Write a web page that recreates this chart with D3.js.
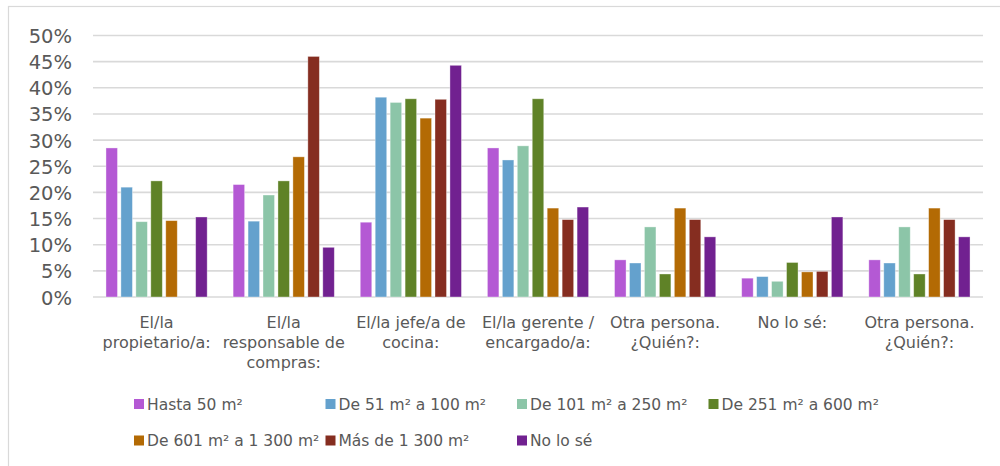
<!DOCTYPE html>
<html>
<head>
<meta charset="utf-8">
<script src="https://cdn.jsdelivr.net/npm/d3@7"></script>
<style>
  html, body { margin: 0; padding: 0; background: #fff; }
  svg { display: block; }
  text { font-family: "DejaVu Sans", sans-serif; fill: #595959; }
</style>
</head>
<body>
<svg id="chart" width="1000" height="466"></svg>
<script>
// Categories (line breaks as shown in the chart)
const categories = [
  "El/la\npropietario/a:",
  "El/la\nresponsable de\ncompras:",
  "El/la jefe/a de\ncocina:",
  "El/la gerente /\nencargado/a:",
  "Otra persona.\n¿Quién?:",
  "No lo sé:",
  "Otra persona.\n¿Quién?:"
];

const seriesNames = [
  "Hasta 50 m²",
  "De 51 m² a 100 m²",
  "De 101 m² a 250 m²",
  "De 251 m² a 600 m²",
  "De 601 m² a 1 300 m²",
  "Más de 1 300 m²",
  "No lo sé"
];

const seriesColors = ["#b459d4", "#64a1cd", "#8cc5a8", "#5f8227", "#b36a04", "#852d20", "#712190"];

// values per series (one per category), in %
const hasta50     = [28.5, 21.5, 14.3, 28.5, 7.1, 3.6, 7.1];
const de51a100    = [21.0, 14.5, 38.2, 26.2, 6.5, 3.9, 6.5];
const de101a250   = [14.4, 19.5, 37.2, 28.9, 13.4, 3.0, 13.4];
const de251a600   = [22.2, 22.2, 37.9, 37.9, 4.4, 6.6, 4.4];
const de601a1300  = [14.6, 26.8, 34.2, 17.0, 17.0, 4.8, 17.0];
const masDe1300   = [0, 46.0, 37.8, 14.8, 14.8, 4.9, 14.8];
const noLoSe      = [15.3, 9.5, 44.3, 17.2, 11.5, 15.3, 11.5];

const seriesValues = [hasta50, de51a100, de101a250, de251a600, de601a1300, masDe1300, noLoSe];

const yTicks = [0, 5, 10, 15, 20, 25, 30, 35, 40, 45, 50];

const svg = d3.select("#chart");

// chart border
svg.append("rect")
  .attr("x", 8.5).attr("y", 6.5)
  .attr("width", 1100).attr("height", 600)
  .attr("fill", "none").attr("stroke", "#d9d9d9").attr("stroke-width", 1.2);

const plotLeft = 93, plotRight = 983, plotTop = 35.5, plotBottom = 297;

const y = d3.scaleLinear().domain([0, 50]).range([plotBottom, plotTop]);
const x0 = d3.scaleBand()
  .domain(d3.range(categories.length))
  .range([plotLeft, plotRight])
  .paddingInner(0.177).paddingOuter(0.0885);
const x1 = d3.scaleBand()
  .domain(d3.range(seriesNames.length))
  .range([0, x0.bandwidth()])
  .paddingInner(0.23).paddingOuter(0.115);

// gridlines
svg.append("g").selectAll("line")
  .data(yTicks).join("line")
  .attr("x1", plotLeft).attr("x2", plotRight)
  .attr("y1", d => y(d)).attr("y2", d => y(d))
  .attr("stroke", "#d9d9d9").attr("stroke-width", 1.6);

// y axis labels
const yAxis = d3.axisLeft(y).tickValues(yTicks).tickFormat(d => d + "%").tickSize(0).tickPadding(0);
const yg = svg.append("g").attr("transform", `translate(72,0)`).call(yAxis);
yg.select(".domain").remove();
yg.selectAll("text")
  .attr("font-family", "DejaVu Sans, sans-serif")
  .attr("font-size", 19.5)
  .attr("fill", "#595959")
  .attr("dy", "0.36em");

// bars
const groups = svg.append("g").selectAll("g")
  .data(categories.map((c, i) => i)).join("g")
  .attr("transform", i => `translate(${x0(i)},0)`);

groups.selectAll("rect")
  .data(i => seriesValues.map((vals, s) => ({ s, v: vals[i] })).filter(d => d.v > 0))
  .join("rect")
  .attr("x", d => x1(d.s))
  .attr("width", x1.bandwidth())
  .attr("y", d => y(d.v))
  .attr("height", d => y(0) - y(d.v))
  .attr("fill", d => seriesColors[d.s])
  .attr("stroke", "#ffffff").attr("stroke-opacity", 0.45).attr("stroke-width", 0.8);

// category labels
const xAxis = d3.axisBottom(x0).tickSize(0).tickFormat(() => "");
const xg = svg.append("g").attr("transform", `translate(0,${plotBottom})`).call(xAxis);
xg.select(".domain").remove();
xg.selectAll(".tick").each(function(i) {
  const t = d3.select(this).select("text")
    .attr("font-family", "DejaVu Sans, sans-serif")
    .attr("font-size", 16)
    .attr("fill", "#595959")
    .attr("text-anchor", "middle")
    .attr("y", 0).attr("dy", null);
  categories[i].split("\n").forEach((line, k) => {
    t.append("tspan").attr("x", 0).attr("y", 31 + k * 20).text(line);
  });
});

// legend
const legendCols = 4, colStep = 191.5, legendX = 134, rowY = [404, 440.5];
const legend = svg.append("g").selectAll("g")
  .data(seriesNames.map((n, i) => i)).join("g")
  .attr("transform", i => `translate(${legendX + (i % legendCols) * colStep},${rowY[Math.floor(i / legendCols)]})`);
legend.append("rect")
  .attr("x", 0).attr("y", -5).attr("width", 10).attr("height", 10)
  .attr("fill", i => seriesColors[i]);
legend.append("text")
  .attr("x", 13).attr("y", 0).attr("dy", "0.36em")
  .attr("font-size", 15.5)
  .attr("fill", "#595959")
  .text(i => seriesNames[i]);
</script>
</body>
</html>
